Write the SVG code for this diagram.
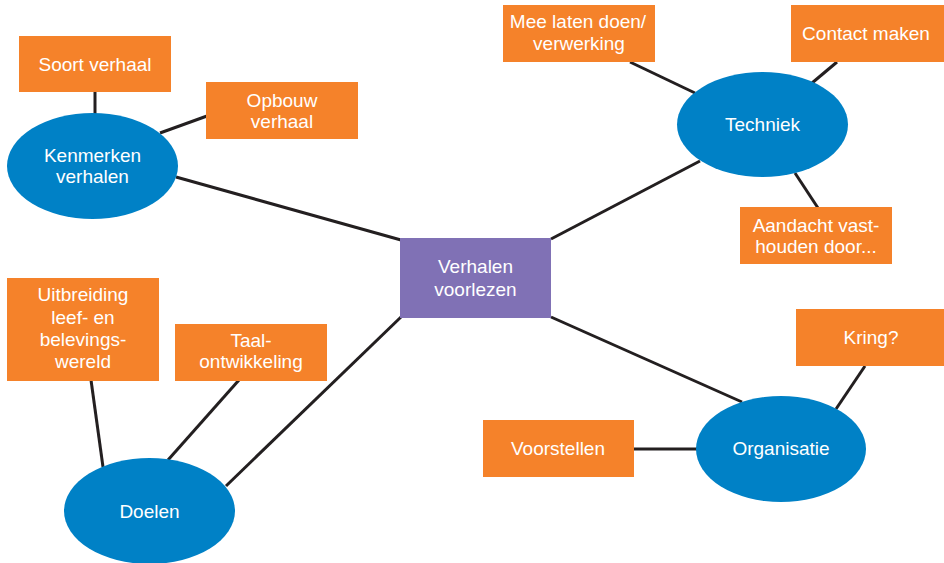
<svg xmlns="http://www.w3.org/2000/svg" width="944" height="563" viewBox="0 0 944 563">
<style>
.box{fill:#F5822A}
.oval{fill:#0081C6}
.main{fill:#8071B5}
.ln{stroke:#231F20;stroke-width:3;fill:none}
text{font-family:"Liberation Sans",Arial,sans-serif;font-size:19px;fill:#FFFFFF;text-anchor:middle}
</style>
<rect width="944" height="563" fill="#FFFFFF"/>
<g id="connectors">
<line class="ln" x1="95" y1="92" x2="95" y2="114"/>
<line class="ln" x1="207" y1="116" x2="160" y2="133"/>
<line class="ln" x1="176" y1="177" x2="401" y2="240"/>
<line class="ln" x1="630" y1="62" x2="695" y2="93"/>
<line class="ln" x1="837" y1="62" x2="812" y2="83"/>
<line class="ln" x1="795" y1="173" x2="818" y2="208"/>
<line class="ln" x1="700" y1="161" x2="551" y2="239"/>
<line class="ln" x1="551" y1="317" x2="742" y2="402"/>
<line class="ln" x1="865" y1="366" x2="836" y2="409"/>
<line class="ln" x1="633" y1="449" x2="697" y2="449"/>
<line class="ln" x1="401" y1="317" x2="226" y2="486"/>
<line class="ln" x1="91" y1="380" x2="103" y2="467"/>
<line class="ln" x1="239" y1="380" x2="168" y2="460"/>
</g>
<g id="verhalen-voorlezen">
<rect class="main" x="400" y="238" width="151" height="80"/>
<text x="475.5" y="273">Verhalen</text>
<text x="475.5" y="296">voorlezen</text>
</g>
<g id="kenmerken-verhalen">
<ellipse class="oval" cx="92.5" cy="166" rx="85.5" ry="53"/>
<text x="92.5" y="162">Kenmerken</text>
<text x="92.5" y="183">verhalen</text>
</g>
<g id="soort-verhaal">
<rect class="box" x="19" y="36" width="152" height="56"/>
<text x="95" y="71">Soort verhaal</text>
</g>
<g id="opbouw-verhaal">
<rect class="box" x="206" y="82" width="152" height="57"/>
<text x="282" y="107">Opbouw</text>
<text x="282" y="128">verhaal</text>
</g>
<g id="techniek">
<ellipse class="oval" cx="762.5" cy="124.5" rx="85.5" ry="52.5"/>
<text x="762.5" y="131">Techniek</text>
</g>
<g id="mee-laten-doen">
<rect class="box" x="503" y="5" width="152" height="57"/>
<text x="578" y="28">Mee laten doen/</text>
<text x="579" y="50">verwerking</text>
</g>
<g id="contact-maken">
<rect class="box" x="791" y="5" width="153" height="57"/>
<text x="866" y="40">Contact maken</text>
</g>
<g id="aandacht-vasthouden">
<rect class="box" x="740" y="207" width="152" height="57"/>
<text x="816" y="232">Aandacht vast-</text>
<text x="816" y="253">houden door...</text>
</g>
<g id="organisatie">
<ellipse class="oval" cx="781" cy="449" rx="85" ry="53"/>
<text x="781" y="455">Organisatie</text>
</g>
<g id="kring">
<rect class="box" x="796" y="309" width="148" height="57"/>
<text x="871" y="344">Kring?</text>
</g>
<g id="voorstellen">
<rect class="box" x="483" y="420" width="151" height="57"/>
<text x="558" y="455">Voorstellen</text>
</g>
<g id="doelen">
<ellipse class="oval" cx="149.5" cy="511" rx="85.5" ry="53"/>
<text x="149.5" y="518">Doelen</text>
</g>
<g id="uitbreiding">
<rect class="box" x="7" y="278" width="152" height="103"/>
<text x="83" y="301">Uitbreiding</text>
<text x="83" y="324">leef- en</text>
<text x="83" y="346">belevings-</text>
<text x="83" y="368">wereld</text>
</g>
<g id="taalontwikkeling">
<rect class="box" x="175" y="324" width="152" height="57"/>
<text x="251" y="347">Taal-</text>
<text x="251" y="368">ontwikkeling</text>
</g>
</svg>
